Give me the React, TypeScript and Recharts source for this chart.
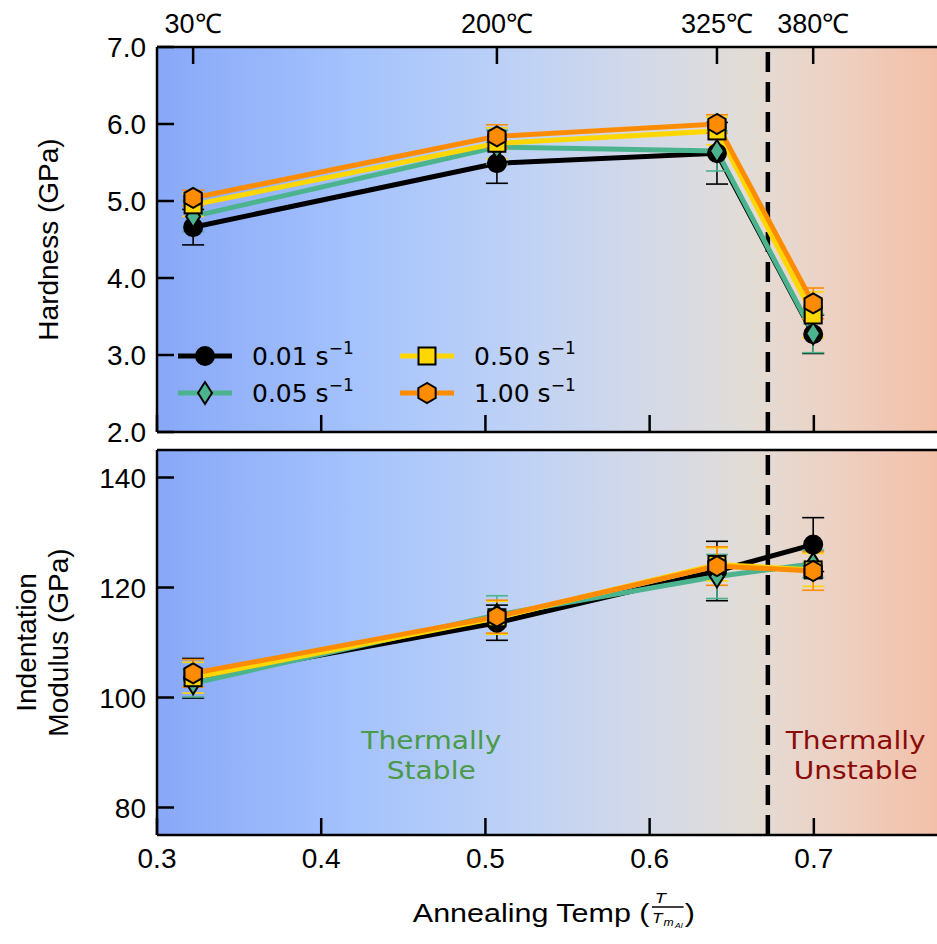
import { LineChart, Line, XAxis, YAxis, ErrorBar, ReferenceLine, ReferenceArea, ReferenceDot, Legend } from "recharts"

// annealing temperatures and their homologous value T / Tm(Al)
const tempLabels = ["30℃", "200℃", "325℃", "380℃"]
const homologousTemp = [0.322, 0.507, 0.641, 0.6996]
const xTicks = [0.3, 0.4, 0.5, 0.6, 0.7]
const stabilityLimit = 0.672

// hardness (GPa)
const hardness001 = [4.66, 5.49, 5.62, 3.27]
const hardness001Err = [0.23, 0.26, 0.4, 0.25]
const hardness005 = [4.8, 5.7, 5.65, 3.28]
const hardness005Err = [0.2, 0.22, 0.26, 0.25]
const hardness050 = [4.95, 5.75, 5.91, 3.52]
const hardness050Err = [0.15, 0.2, 0.18, 0.3]
const hardness100 = [5.04, 5.84, 6.0, 3.67]
const hardness100Err = [0.1, 0.15, 0.12, 0.2]
const hardnessTicks = [2, 3, 4, 5, 6, 7]

// indentation modulus (GPa)
const modulus001 = [103.5, 113.6, 123.0, 127.8]
const modulus001Err = [3.6, 3.2, 5.4, 4.9]
const modulus005 = [102.6, 115.0, 122.0, 124.3]
const modulus005Err = [2.5, 3.5, 4.0, 2.5]
const modulus050 = [103.6, 114.5, 124.2, 123.2]
const modulus050Err = [2.8, 3.0, 3.0, 3.0]
const modulus100 = [104.4, 114.7, 123.9, 123.0]
const modulus100Err = [2.5, 3.0, 3.5, 3.5]
const modulusTicks = [80, 100, 120, 140]

const series = [
  { key: "r001", label: "0.01", color: "#000000", marker: "circle" },
  { key: "r005", label: "0.05", color: "#4cb38f", marker: "diamond" },
  { key: "r050", label: "0.50", color: "#ffd700", marker: "square" },
  { key: "r100", label: "1.00", color: "#ff8c00", marker: "hexagon" },
]

const hardnessRows = homologousTemp.map((t, i) => ({
  t,
  r001: hardness001[i], r001Err: hardness001Err[i],
  r005: hardness005[i], r005Err: hardness005Err[i],
  r050: hardness050[i], r050Err: hardness050Err[i],
  r100: hardness100[i], r100Err: hardness100Err[i],
}))

const modulusRows = homologousTemp.map((t, i) => ({
  t,
  r001: modulus001[i], r001Err: modulus001Err[i],
  r005: modulus005[i], r005Err: modulus005Err[i],
  r050: modulus050[i], r050Err: modulus050Err[i],
  r100: modulus100[i], r100Err: modulus100Err[i],
}))

const W = 937
const X_DOMAIN: [number, number] = [0.3, 0.775]
const TICK_FONT = "'Liberation Sans', Arial, sans-serif"
const DEJAVU = "'DejaVu Sans', sans-serif"
const TICK_LEN = 17
const FRAME = { stroke: "#000", strokeWidth: 2.5 }

function hexPoints(cx: number, cy: number, r: number) {
  return Array.from({ length: 6 }, (_, k) => {
    const a = Math.PI / 2 + (k * Math.PI) / 3
    return `${cx + r * Math.cos(a)},${cy - r * Math.sin(a)}`
  }).join(" ")
}

function Marker({ cx, cy, shape, fill }: any) {
  if (cx == null || cy == null) return null
  const common = { fill, stroke: "#000", strokeWidth: 2 }
  if (shape === "circle") return <circle cx={cx} cy={cy} r={9} {...common} />
  if (shape === "diamond")
    return <polygon points={`${cx},${cy - 11} ${cx + 7},${cy} ${cx},${cy + 11} ${cx - 7},${cy}`} {...common} />
  if (shape === "square") return <rect x={cx - 8.5} y={cy - 8.5} width={17} height={17} {...common} />
  return <polygon points={hexPoints(cx, cy, 10)} {...common} />
}

const LeftTick = (fmt: (v: number) => string) => (p: any) => (
  <g>
    <line x1={p.x} y1={p.y} x2={p.x + TICK_LEN} y2={p.y} stroke="#000" strokeWidth={2.5} />
    <text x={p.x - 11} y={p.y} dy="0.36em" textAnchor="end" fontSize={28} fontFamily={TICK_FONT} fill="#000">
      {fmt(p.payload.value)}
    </text>
  </g>
)

const BottomTick = (showLabel: boolean) => (p: any) => (
  <g>
    <line x1={p.x} y1={p.y} x2={p.x} y2={p.y - TICK_LEN} stroke="#000" strokeWidth={2.5} />
    {showLabel && (
      <text x={p.x} y={p.y + 33} textAnchor="middle" fontSize={28} fontFamily={TICK_FONT} fill="#000">
        {p.payload.value.toFixed(1)}
      </text>
    )}
  </g>
)

const TopTempTick = (p: any) => {
  const i = homologousTemp.indexOf(p.payload.value)
  return (
    <g>
      <line x1={p.x} y1={p.y} x2={p.x} y2={p.y + TICK_LEN} stroke="#000" strokeWidth={2.5} />
      <text x={p.x} y={p.y - 14} textAnchor="middle" fontSize={27} fontFamily={TICK_FONT} fill="#000">
        {tempLabels[i]}
      </text>
    </g>
  )
}

function YTitle({ viewBox, lines }: any) {
  const cy = viewBox.y + viewBox.height / 2
  const xs = lines.length === 1 ? [48] : [26, 58]
  return (
    <g>
      {lines.map((ln: string, i: number) => (
        <text
          key={ln}
          x={xs[i]}
          y={cy}
          transform={`rotate(-90, ${xs[i]}, ${cy})`}
          textAnchor="middle"
          dominantBaseline="central"
          fontSize={28}
          fontFamily={TICK_FONT}
          fill="#000"
        >
          {ln}
        </text>
      ))}
    </g>
  )
}

function XTitle({ viewBox }: any) {
  const cx = viewBox.x + viewBox.width / 2
  const by = viewBox.y + 87
  const f = { fontFamily: TICK_FONT, fill: "#000" }
  return (
    <g transform={`translate(${cx}, ${by}) scale(1.22, 1)`}>
      <text x={-110} y={0} fontSize={25} {...f}>Annealing Temp (</text>
      <text x={93} y={-19} fontSize={15} fontStyle="italic" textAnchor="middle" {...f}>T</text>
      <line x1={86} x2={112} y1={-15} y2={-15} stroke="#000" strokeWidth={1.3} />
      <text x={86} y={1} fontSize={14} fontStyle="italic" {...f}>T</text>
      <text x={95.5} y={4} fontSize={10} fontStyle="italic" {...f}>m</text>
      <text x={105} y={6} fontSize={7} fontStyle="italic" {...f}>Al</text>
      <text x={113} y={0} fontSize={25} {...f}>)</text>
    </g>
  )
}

function LegendBox() {
  return (
    <svg width={420} height={80}>
      {series.map((s, i) => {
        const ox = Math.floor(i / 2) * 222
        const oy = (i % 2) * 37 + 22
        return (
          <g key={s.key}>
            <line x1={ox + 8} x2={ox + 62} y1={oy} y2={oy} stroke={s.color} strokeWidth={5} />
            <Marker cx={ox + 35} cy={oy} shape={s.marker} fill={s.color} />
            <text x={ox + 82} y={oy} dy="0.36em" fontSize={25} fontFamily={DEJAVU} fill="#000">
              {s.label} s
              <tspan dy={-11} fontSize={17}>−1</tspan>
            </text>
          </g>
        )
      })}
    </svg>
  )
}

function Note({ lines, color }: { lines: string[]; color: string }) {
  return (p: any) => (
    <g transform={`translate(${p.cx}, ${p.cy}) scale(1.17, 1)`}>
      {lines.map((ln, i) => (
        <text key={ln} x={0} y={(i - 0.5) * 30} dy="0.36em" textAnchor="middle" fontSize={24} fontFamily={DEJAVU} fill={color}>
          {ln}
        </text>
      ))}
    </g>
  )
}

function Background({ id }: { id: string }) {
  return (
    <defs>
      <linearGradient id={id} x1="0" y1="0" x2="1" y2="0">
        <stop offset="0%" stopColor="#88a8f8" />
        <stop offset="25%" stopColor="#a4c2fc" />
        <stop offset="45%" stopColor="#bdd1f6" />
        <stop offset="65%" stopColor="#d6dae5" />
        <stop offset="76%" stopColor="#e2dcd6" />
        <stop offset="87%" stopColor="#edd1c3" />
        <stop offset="100%" stopColor="#f2c0a8" />
      </linearGradient>
    </defs>
  )
}

function seriesLines() {
  return series.map((s) => (
    <Line
      key={s.key}
      xAxisId="bottom"
      type="linear"
      dataKey={s.key}
      stroke={s.color}
      strokeWidth={5}
      activeDot={false}
      isAnimationActive={false}
      dot={(p: any) => <Marker key={`${s.key}-${p.index}`} cx={p.cx} cy={p.cy} shape={s.marker} fill={s.color} />}
    >
      <ErrorBar dataKey={`${s.key}Err`} width={11} stroke={s.color} strokeWidth={1.6} direction="y" isAnimationActive={false} />
    </Line>
  ))
}

export default function App() {
  return (
    <div style={{ position: "absolute", left: 0, top: 0, width: W, height: 944, background: "#fff" }}>
      <div style={{ position: "absolute", left: 0, top: 0 }}>
        <LineChart width={W} height={450} data={hardnessRows} margin={{ top: 0, right: 0, bottom: 0, left: 0 }}>
          <Background id="bgTop" />
          <XAxis
            xAxisId="bottom"
            dataKey="t"
            type="number"
            domain={X_DOMAIN}
            allowDataOverflow
            ticks={xTicks}
            interval={0}
            height={18}
            axisLine={FRAME}
            tickLine={false}
            tickSize={0}
            tickMargin={0}
            tick={BottomTick(false)}
          />
          <XAxis
            xAxisId="top"
            orientation="top"
            dataKey="t"
            type="number"
            domain={X_DOMAIN}
            allowDataOverflow
            ticks={homologousTemp}
            interval={0}
            height={47}
            axisLine={FRAME}
            tickLine={false}
            tickSize={0}
            tickMargin={0}
            tick={TopTempTick}
          />
          <YAxis
            type="number"
            domain={[2, 7]}
            allowDataOverflow
            ticks={hardnessTicks}
            interval={0}
            width={157}
            axisLine={FRAME}
            tickLine={false}
            tickSize={0}
            tickMargin={0}
            tick={LeftTick((v) => v.toFixed(1))}
            label={<YTitle lines={["Hardness (GPa)"]} />}
          />
          <ReferenceArea xAxisId="bottom" x1={X_DOMAIN[0]} x2={X_DOMAIN[1]} y1={2} y2={7} fill="url(#bgTop)" fillOpacity={1} stroke="none" />
          <ReferenceLine xAxisId="bottom" x={stabilityLimit} stroke="#000" strokeWidth={4.5} strokeDasharray="20 10" />
          {seriesLines()}
          <Legend
            layout="horizontal"
            verticalAlign="middle"
            align="center"
            content={() => <LegendBox />}
            wrapperStyle={{ position: "absolute", left: 170, top: 334, width: 420, height: 80 }}
          />
        </LineChart>
      </div>

      <div style={{ position: "absolute", left: 0, top: 441 }}>
        <LineChart width={W} height={503} data={modulusRows} margin={{ top: 0, right: 0, bottom: 0, left: 0 }}>
          <Background id="bgBottom" />
          <XAxis
            xAxisId="bottom"
            dataKey="t"
            type="number"
            domain={X_DOMAIN}
            allowDataOverflow
            ticks={xTicks}
            interval={0}
            height={109}
            axisLine={FRAME}
            tickLine={false}
            tickSize={0}
            tickMargin={0}
            tick={BottomTick(true)}
            label={<XTitle />}
          />
          <XAxis
            xAxisId="top"
            orientation="top"
            dataKey="t"
            type="number"
            domain={X_DOMAIN}
            allowDataOverflow
            height={9}
            axisLine={FRAME}
            tickLine={false}
            tick={false}
          />
          <YAxis
            type="number"
            domain={[75, 145]}
            allowDataOverflow
            ticks={modulusTicks}
            interval={0}
            width={157}
            axisLine={FRAME}
            tickLine={false}
            tickSize={0}
            tickMargin={0}
            tick={LeftTick((v) => String(v))}
            label={<YTitle lines={["Indentation", "Modulus (GPa)"]} />}
          />
          <ReferenceArea xAxisId="bottom" x1={X_DOMAIN[0]} x2={X_DOMAIN[1]} y1={75} y2={145} fill="url(#bgBottom)" fillOpacity={1} stroke="none" />
          <ReferenceLine xAxisId="bottom" x={stabilityLimit} stroke="#000" strokeWidth={4.5} strokeDasharray="20 10" />
          {seriesLines()}
          <ReferenceDot xAxisId="bottom" x={0.467} y={89.5} r={0} shape={Note({ lines: ["Thermally", "Stable"], color: "#4a9a48" })} />
          <ReferenceDot xAxisId="bottom" x={0.7255} y={89.5} r={0} shape={Note({ lines: ["Thermally", "Unstable"], color: "#8b0a0a" })} />
        </LineChart>
      </div>
    </div>
  )
}
